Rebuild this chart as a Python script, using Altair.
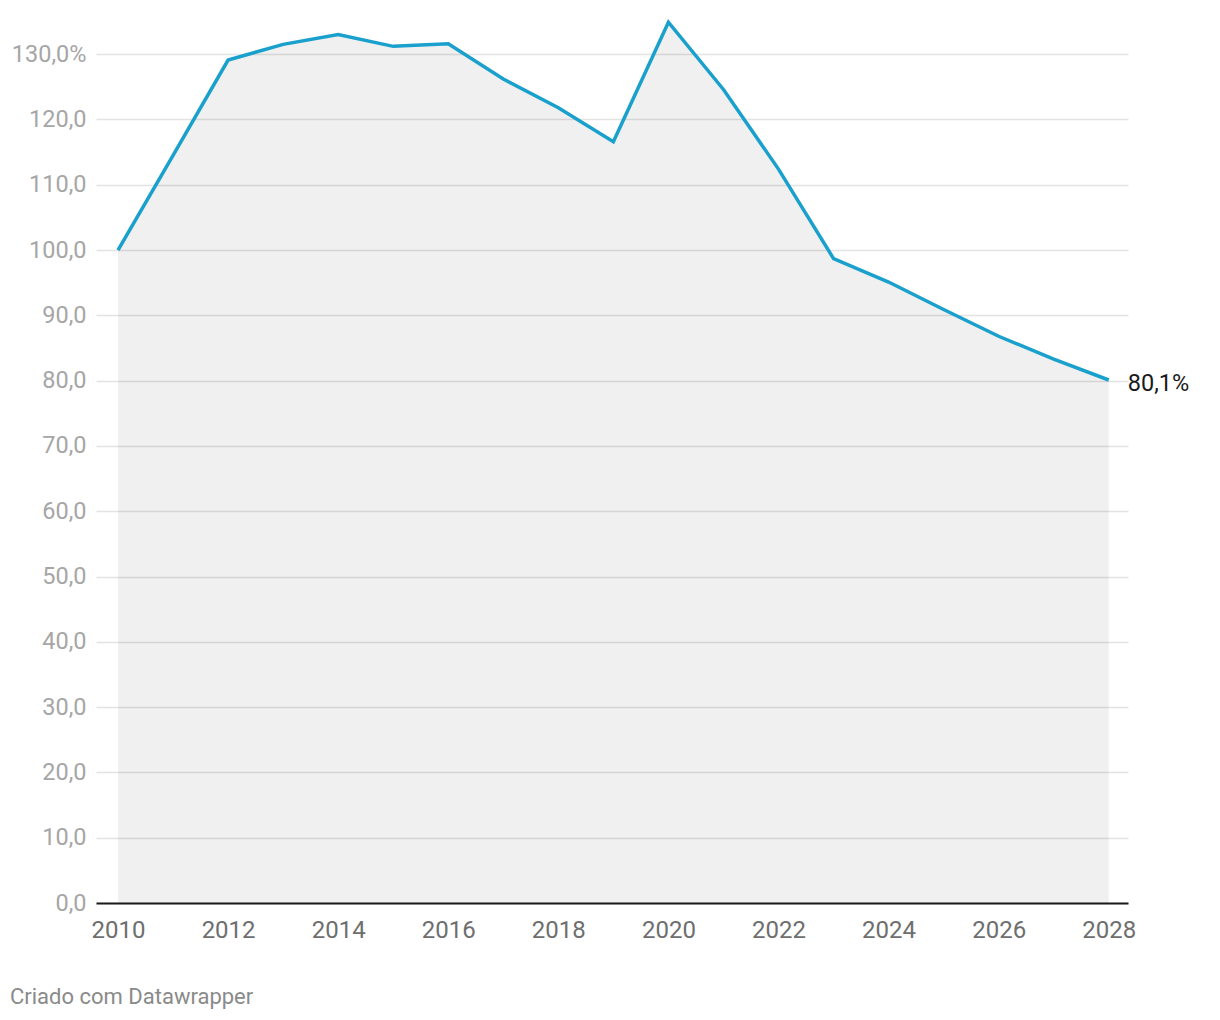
import altair as alt
import pandas as pd

years = list(range(2010, 2029))
values = [100.0, 114.5, 129.1, 131.5, 133.0, 131.2, 131.6, 126.2, 121.8, 116.6,
          134.9, 124.6, 112.4, 98.7, 95.1, 90.9, 86.8, 83.3, 80.1]
end_label = "80,1%"
footer_text = "Criado com Datawrapper"
x_ticks = list(range(2010, 2029, 2))
y_ticks = list(range(0, 131, 10))

df = pd.DataFrame({"year": years, "value": values})
last = pd.DataFrame({"year": [years[-1]], "value": [values[-1]], "label": [end_label]})
foot = pd.DataFrame({"t": [footer_text]})

FONT = "Roboto"

x = alt.X("year:Q",
          scale=alt.Scale(domain=[2009.6, 2028.35], nice=False, zero=False),
          axis=alt.Axis(values=x_ticks, format="d", title=None, grid=False,
                        ticks=False, domain=True, domainColor="#1a1a1a", domainWidth=2,
                        labelColor="#6e6e6e", labelFontSize=24, labelFont=FONT,
                        labelPadding=15, labelFlush=False))
y = alt.Y("value:Q",
          scale=alt.Scale(domain=[0, 136], nice=False),
          axis=alt.Axis(values=y_ticks, title=None, ticks=False, domain=False,
                        gridColor="#e3e3e3", gridWidth=1.5,
                        labelColor="#a6a6a6", labelFontSize=23.5, labelFont=FONT,
                        labelPadding=10,
                        labelExpr="datum.value == 130 ? '130,0%' : replace(format(datum.value, '.1f'), '.', ',')"))

base = alt.Chart(df)

area = base.mark_area(color="#000000", opacity=0.058).encode(x=x, y=y)
line = base.mark_line(color="#1aa0cd", strokeWidth=3.5, strokeJoin="miter").encode(x=x, y=y)
label = alt.Chart(last).mark_text(align="left", baseline="middle", dx=19, dy=4,
                                  fontSize=23.5, font=FONT, color="#1a1a1a").encode(
    x=alt.X("year:Q"), y=alt.Y("value:Q"), text="label:N")
footer = alt.Chart(foot).mark_text(align="left", baseline="middle", fontSize=22,
                                   font=FONT, color="#8a8a8a").encode(
    x=alt.value(-86), y=alt.value(982), text="t:N")

chart = alt.layer(area, line, label, footer).properties(
    width=1032, height=888,
    background="white",
    autosize=alt.AutoSizeParams(type="none"),
    padding={"left": 88, "top": 7, "right": 84, "bottom": 110},
).configure_view(strokeWidth=0)

chart.save("out.html", embed_options={"renderer": "svg", "actions": False})
